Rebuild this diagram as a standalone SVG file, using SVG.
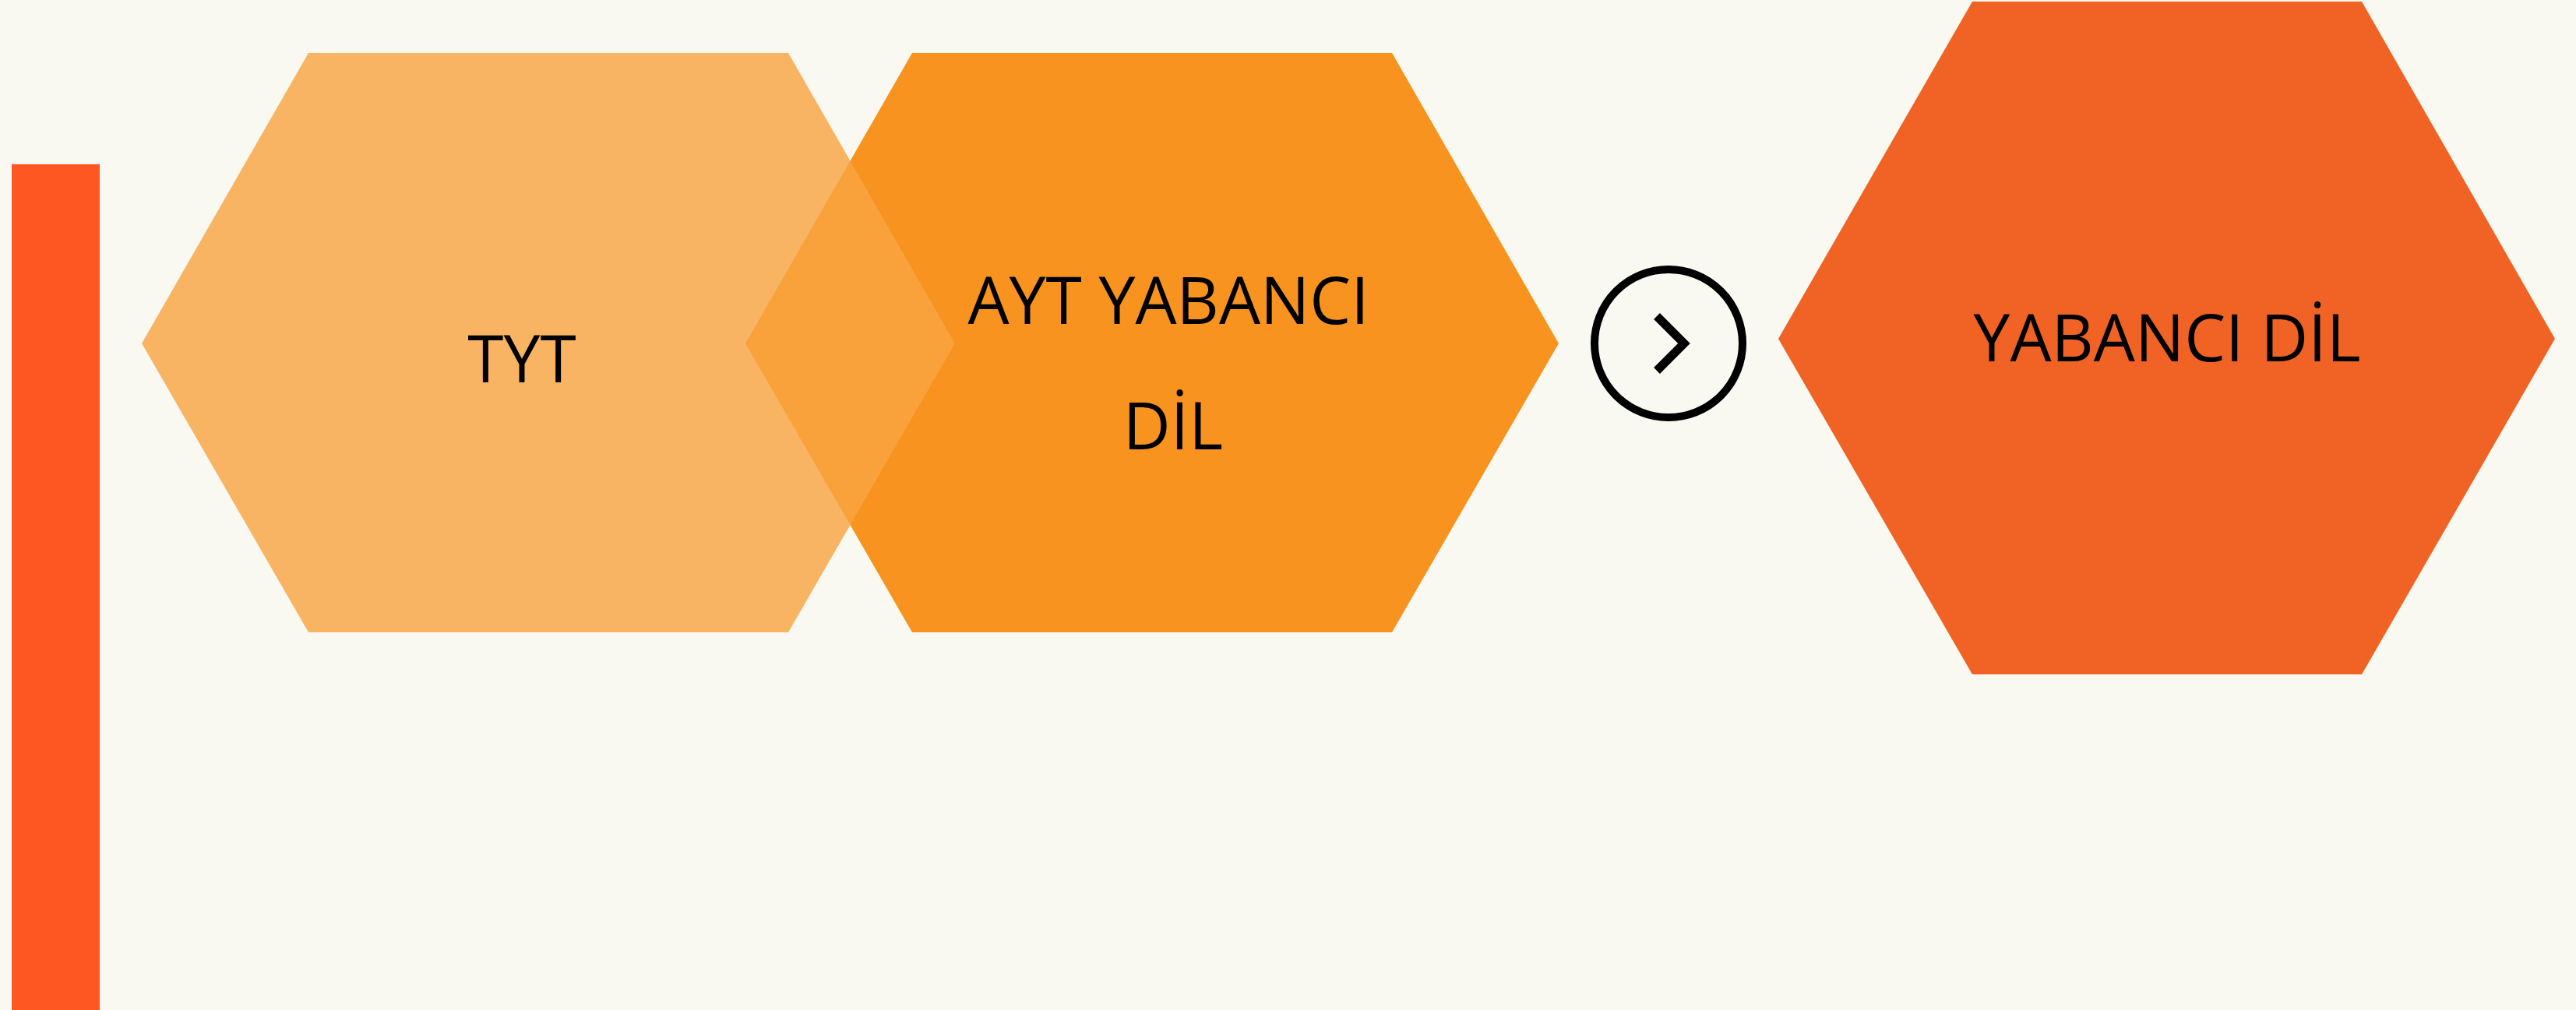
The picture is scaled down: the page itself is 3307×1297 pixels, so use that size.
<svg xmlns="http://www.w3.org/2000/svg" width="3307" height="1297" viewBox="0 0 3307 1297">
<style>
.lbl{font-family:"Open Sans","Noto Sans","Liberation Sans",sans-serif;font-size:84px;fill:#000;text-anchor:middle}
</style>
<rect x="0" y="0" width="3307" height="1297" fill="#F9F9F1"/>
<g id="bar"><rect x="15" y="211" width="113" height="1086" fill="#FE5722"/></g>
<g id="node-ayt">
<polygon points="1171,68 1787,68 2001,441 1787,812 1171,812 957,441" fill="#F7931E"/>
<text class="lbl" x="1500" y="416">AYT YABANCI</text>
<text class="lbl" x="1506" y="577">DİL</text>
</g>
<g id="node-tyt">
<polygon points="396,68 1012,68 1226,441 1012,812 396,812 182,441" fill="#F9A441" fill-opacity="0.81"/>
<text class="lbl" x="670" y="491">TYT</text>
</g>
<g id="connectors">
<circle cx="2142" cy="441" r="95" fill="none" stroke="#000" stroke-width="10"/>
<polyline points="2127,406 2162,441 2127,476" fill="none" stroke="#000" stroke-width="11"/>
</g>
<g id="node-yabanci">
<polygon points="2532,2 3032,2 3280,435 3032,866 2532,866 2283,435" fill="#F06324"/>
<text class="lbl" x="2782" y="464">YABANCI DİL</text>
</g>
</svg>
